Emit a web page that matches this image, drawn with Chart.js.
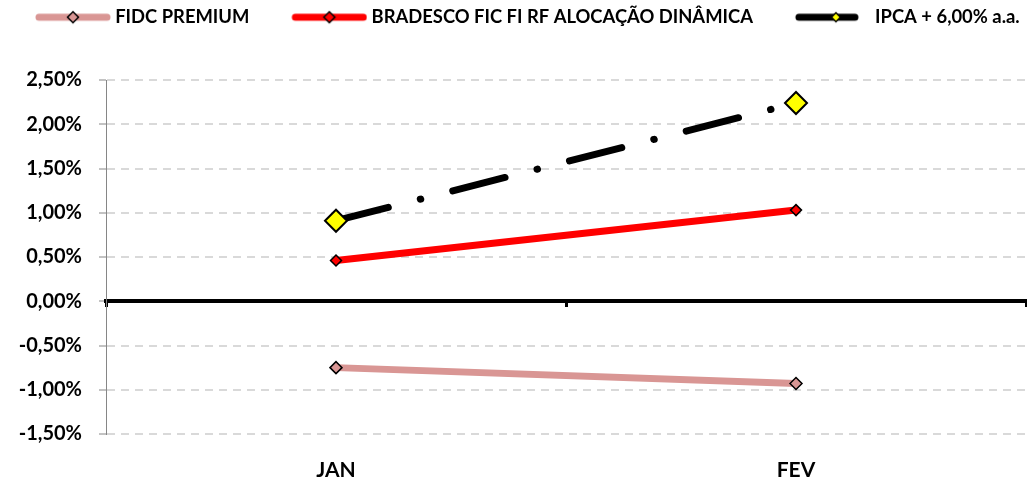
<!DOCTYPE html>
<html><head><meta charset="utf-8">
<script src="https://cdn.jsdelivr.net/npm/chart.js@4.4.1/dist/chart.umd.min.js"></script>
<style>html,body{margin:0;padding:0;background:#fff;} canvas{display:block;}</style>
</head><body>
<canvas id="c" width="1027" height="481"></canvas>
<script>
// ---- data ----
const categories = ['JAN', 'FEV'];
const seriesNames = ['FIDC PREMIUM', 'BRADESCO FIC FI RF ALOCAÇÃO DINÂMICA', 'IPCA + 6,00% a.a.'];
const fidcPremium = [-0.75, -0.93];
const bradescoAlocacao = [0.46, 1.03];
const ipcaMais6 = [0.91, 2.24];
const yMin = -1.5, yMax = 2.5, yStep = 0.5;

// ---- style ----
const FONT = 'Lato';
const LEG_W = 105, LEG_PAD = 8, PAD_LEFT = -7, PAD_RIGHT = 1;

function legendImage(color, markerFill, r, dashed) {
  const iw = LEG_W + 10, ih = 18;
  const c = document.createElement('canvas');
  c.width = iw; c.height = ih;
  const g = c.getContext('2d');
  const x0 = LEG_W - 65.5, x1 = LEG_W + 9.5, y = ih / 2;
  g.lineCap = 'round'; g.lineWidth = 7; g.strokeStyle = color;
  g.beginPath();
  g.moveTo(x0 + 3.5, y);
  g.lineTo(dashed ? x0 + 3.5 + 56 : x1 - 3.5, y);
  g.stroke();
  const mx = (x0 + x1) / 2 + (dashed ? 3 : 0);
  g.beginPath();
  g.moveTo(mx, y - r); g.lineTo(mx + r, y); g.lineTo(mx, y + r); g.lineTo(mx - r, y); g.closePath();
  g.fillStyle = markerFill; g.fill();
  g.lineWidth = 1.5; g.strokeStyle = '#000'; g.stroke();
  return c;
}
const legendImgs = [
  legendImage('#d99694', '#d99694', 5.5, false),
  legendImage('#ff0000', '#ff0000', 5.5, false),
  legendImage('#000000', '#ffff00', 4.5, true)
];

const legendSpacer = {
  id: 'legendSpacer',
  beforeInit(chart) {
    const lg = chart.legend;
    const origFit = lg.fit;
    lg.fit = function () {
      const mw = this.maxWidth;
      this.maxWidth = mw + 60;
      origFit.call(this);
      this.maxWidth = mw;
      this.width = mw;
      this.height = 80;
    };
    const origDraw = lg.draw;
    lg.draw = function () {
      const r = this.right;
      this.right = r + 60;
      origDraw.apply(this, arguments);
      this.right = r;
    };
  }
};

new Chart(document.getElementById('c'), {
  type: 'line',
  data: {
    labels: categories,
    datasets: [
      { label: seriesNames[0], data: fidcPremium, borderColor: '#d99694', backgroundColor: '#d99694',
        borderWidth: 7, pointStyle: 'rectRot', pointRadius: 6, pointBorderWidth: 1.5,
        pointBorderColor: '#000', pointBackgroundColor: '#d99694', tension: 0 },
      { label: seriesNames[1], data: bradescoAlocacao, borderColor: '#ff0000', backgroundColor: '#ff0000',
        borderWidth: 7, pointStyle: 'rectRot', pointRadius: 5.5, pointBorderWidth: 1.5,
        pointBorderColor: '#000', pointBackgroundColor: '#ff0000', tension: 0 },
      { label: seriesNames[2], data: ipcaMais6, borderColor: '#000', backgroundColor: '#000',
        borderWidth: 7, borderDash: [54, 33, 0.5, 33], borderCapStyle: 'round',
        pointStyle: 'rectRot', pointRadius: 11, pointBorderWidth: 2,
        pointBorderColor: '#000', pointBackgroundColor: '#ffff00', tension: 0 }
    ]
  },
  options: {
    responsive: false,
    animation: false,
    layout: { autoPadding: false, padding: { left: PAD_LEFT, right: PAD_RIGHT, top: 0, bottom: 0 } },
    plugins: {
      tooltip: { enabled: false },
      legend: {
        position: 'top', align: 'start',
        labels: {
          usePointStyle: true, pointStyleWidth: LEG_W, boxHeight: 18.4, padding: LEG_PAD,
          color: '#000', font: { family: FONT, weight: 'bold', size: 18.4 },
          generateLabels: (chart) => chart.data.datasets.map((ds, i) => ({
            text: ds.label, pointStyle: legendImgs[i], datasetIndex: i, hidden: false,
            fontColor: '#000', lineWidth: 0, fillStyle: 'rgba(0,0,0,0)', strokeStyle: 'rgba(0,0,0,0)'
          }))
        }
      }
    },
    scales: {
      x: {
        type: 'category', position: 'bottom', offset: true,
        grid: { display: false, drawTicks: false },
        border: { display: false },
        ticks: { color: '#000', font: { family: FONT, weight: 'bold', size: 21 }, padding: 24 },
        afterFit: (s) => { s.height = 47; s.paddingLeft = 0; s.paddingRight = 0; }
      },
      x2: {
        type: 'category', axis: 'x', position: { y: 0 }, offset: true,
        grid: { display: true, offset: true, drawOnChartArea: false, drawTicks: true, tickLength: 4,
                color: '#000', lineWidth: 3 },
        border: { display: true, color: '#000', width: 4 },
        ticks: { display: false }
      },
      y: {
        min: yMin, max: yMax,
        grid: { color: '#d9d9d9', lineWidth: 2, tickColor: '#868686', tickWidth: 1, tickLength: 7, tickBorderDash: [] },
        border: { display: true, color: '#868686', width: 1, dash: [8, 6] },
        ticks: {
          stepSize: yStep, padding: 17, color: '#000',
          font: { family: FONT, weight: 'bold', size: 20 },
          callback: (v) => v.toFixed(2).replace('.', ',') + '%'
        },
        afterFit: (s) => { s.width = 106 - PAD_LEFT; }
      }
    }
  },
  plugins: [legendSpacer]
});
</script>
</body></html>
